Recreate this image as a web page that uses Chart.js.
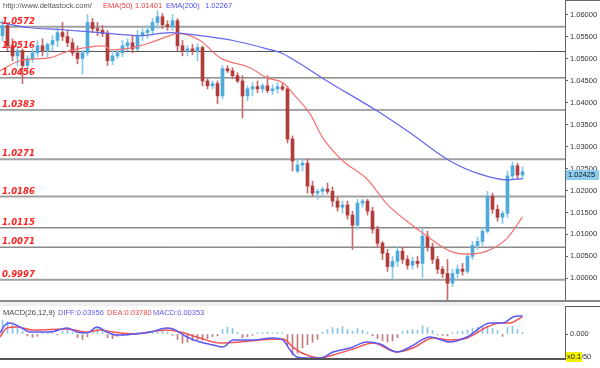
<!DOCTYPE html>
<html>
<head>
<meta charset="utf-8">
<script src="https://cdn.jsdelivr.net/npm/chart.js@4.4.1/dist/chart.umd.min.js"></script>
<style>
html, body { margin: 0; padding: 0; background: #fff; }
#wrap { position: relative; width: 600px; height: 368px; overflow: hidden; font-family: "Liberation Sans", Arial, sans-serif; }
#mainChart { position: absolute; left: 0; top: 0; }
#macdChart { position: absolute; left: 0; top: 300px; }
.hdr { position: absolute; font-size: 7.5px; line-height: 9px; white-space: nowrap; }
</style>
</head>
<body>
<div id="wrap">
  <canvas id="mainChart" width="600" height="300"></canvas>
  <canvas id="macdChart" width="600" height="68"></canvas>
  <div class="hdr" style="left:3px;top:1px;color:#555">http://www.deltastock.com/</div>
  <div class="hdr" style="left:103px;top:1px;color:#f03c3c">EMA(50)</div>
  <div class="hdr" style="left:135px;top:1px;color:#f03c3c">1.01401</div>
  <div class="hdr" style="left:166px;top:1px;color:#5050f0">EMA(200)</div>
  <div class="hdr" style="left:205px;top:1px;color:#5050f0">1.02267</div>
  <div class="hdr" style="left:3px;top:308px;color:#444">MACD(26,12,9)</div>
  <div class="hdr" style="left:58px;top:308px;color:#5a5af0">DIFF:0.03956</div>
  <div class="hdr" style="left:107px;top:308px;color:#f04848">DEA:0.03780</div>
  <div class="hdr" style="left:153px;top:308px;color:#5a5af0">MACD:0.00353</div>
</div>
<script>
// price candles, one per bar (left to right)
const opens = [1.0552,1.0575,1.0529,1.0506,1.0518,1.0484,1.0500,1.0513,1.0529,1.0518,
  1.0532,1.0541,1.0559,1.0550,1.0536,1.0513,1.0500,1.0513,1.0582,1.0568,
  1.0564,1.0557,1.0495,1.0506,1.0513,1.0529,1.0536,1.0522,1.0552,1.0559,
  1.0564,1.0582,1.0595,1.0577,1.0573,1.0586,1.0529,1.0518,1.0522,1.0518,
  1.0525,1.0449,1.0438,1.0443,1.0415,1.0477,1.0472,1.0461,1.0449,1.0415,
  1.0431,1.0436,1.0431,1.0438,1.0427,1.0431,1.0436,1.0431,1.0317,1.0244,
  1.0258,1.0262,1.0210,1.0194,1.0198,1.0203,1.0198,1.0176,1.0162,1.0167,
  1.0144,1.0121,1.0171,1.0176,1.0153,1.0112,1.0080,1.0057,1.0027,1.0039,
  1.0062,1.0043,1.0030,1.0039,1.0034,1.0096,1.0071,1.0043,1.0021,1.0011,
  0.9989,1.0011,1.0021,1.0016,1.0050,1.0075,1.0084,1.0107,1.0187,1.0157,
  1.0139,1.0148,1.0233,1.0256,1.0235];
const highs = [1.0586,1.0582,1.0545,1.0529,1.0522,1.0506,1.0522,1.0541,1.0545,1.0536,
  1.0552,1.0568,1.0582,1.0564,1.0545,1.0529,1.0518,1.0600,1.0591,1.0582,
  1.0575,1.0564,1.0518,1.0522,1.0541,1.0545,1.0552,1.0564,1.0568,1.0575,
  1.0591,1.0609,1.0602,1.0586,1.0600,1.0591,1.0541,1.0529,1.0532,1.0534,
  1.0529,1.0454,1.0449,1.0449,1.0484,1.0484,1.0479,1.0468,1.0461,1.0438,
  1.0445,1.0449,1.0443,1.0461,1.0440,1.0445,1.0445,1.0436,1.0324,1.0272,
  1.0272,1.0272,1.0221,1.0203,1.0208,1.0217,1.0208,1.0185,1.0176,1.0176,
  1.0153,1.0180,1.0180,1.0180,1.0162,1.0119,1.0084,1.0066,1.0050,1.0073,
  1.0071,1.0052,1.0048,1.0050,1.0112,1.0107,1.0080,1.0050,1.0027,1.0043,
  1.0021,1.0030,1.0034,1.0057,1.0084,1.0094,1.0116,1.0198,1.0194,1.0167,
  1.0153,1.0244,1.0265,1.0262,1.0253];
const lows = [1.0541,1.0518,1.0495,1.0484,1.0443,1.0472,1.0491,1.0504,1.0506,1.0504,
  1.0518,1.0527,1.0541,1.0527,1.0506,1.0488,1.0465,1.0506,1.0559,1.0552,
  1.0550,1.0484,1.0486,1.0500,1.0504,1.0518,1.0513,1.0518,1.0541,1.0545,
  1.0554,1.0568,1.0568,1.0564,1.0564,1.0518,1.0506,1.0506,1.0509,1.0495,
  1.0438,1.0431,1.0431,1.0397,1.0408,1.0468,1.0454,1.0445,1.0365,1.0404,
  1.0415,1.0422,1.0422,1.0422,1.0418,1.0422,1.0427,1.0308,1.0244,1.0240,
  1.0244,1.0194,1.0187,1.0180,1.0187,1.0192,1.0164,1.0153,1.0148,1.0135,
  1.0066,1.0112,1.0162,1.0144,1.0103,1.0071,1.0043,1.0016,1.0000,1.0027,
  1.0034,1.0021,1.0021,1.0025,1.0002,1.0062,1.0034,1.0011,1.0002,0.9950,
  0.9982,1.0002,1.0007,1.0011,1.0043,1.0066,1.0075,1.0103,1.0148,1.0130,
  1.0125,1.0139,1.0226,1.0226,1.0226];
const closes = [1.0575,1.0529,1.0506,1.0518,1.0484,1.0500,1.0513,1.0529,1.0518,1.0532,
  1.0541,1.0559,1.0550,1.0536,1.0513,1.0500,1.0513,1.0582,1.0568,1.0564,
  1.0557,1.0495,1.0506,1.0513,1.0529,1.0536,1.0522,1.0552,1.0559,1.0564,
  1.0582,1.0595,1.0577,1.0573,1.0586,1.0529,1.0518,1.0522,1.0518,1.0525,
  1.0449,1.0438,1.0443,1.0415,1.0477,1.0472,1.0461,1.0449,1.0415,1.0431,
  1.0436,1.0431,1.0438,1.0427,1.0431,1.0436,1.0431,1.0317,1.0267,1.0258,
  1.0262,1.0210,1.0194,1.0198,1.0203,1.0198,1.0176,1.0162,1.0167,1.0144,
  1.0121,1.0171,1.0176,1.0153,1.0112,1.0080,1.0057,1.0027,1.0039,1.0062,
  1.0043,1.0030,1.0039,1.0034,1.0096,1.0071,1.0043,1.0021,1.0011,0.9989,
  1.0011,1.0021,1.0016,1.0050,1.0075,1.0084,1.0107,1.0187,1.0157,1.0139,
  1.0148,1.0233,1.0256,1.0235,1.02425];

// moving averages, read at bar positions
const ema50Pos = [-0.5,3.5,9.5,13.5,20.5,21.5,26.1,29.5,33.5,34.9,39.5,43.5,49.5,52.9,56.1,58.1,61.5,64.1,68.1,72.9,76.9,80.9,84.9,89.5,92.9,96.9,100.9,104];
const ema50 = [1.0472,1.0495,1.0502,1.0518,1.0529,1.0520,1.0525,1.0536,1.0552,1.0557,1.0541,1.0502,1.0479,1.0456,1.0445,1.0420,1.0374,1.0319,1.0267,1.0226,1.0169,1.0130,1.0096,1.0062,1.0055,1.0062,1.0091,1.01401];
const ema200Pos = [-0.5,5.5,11.5,19.5,27.5,33.5,39.5,46.1,52.9,56.1,59.5,64.9,74.9,81.5,89.5,95.5,100.9,104];
const ema200 = [1.0582,1.0570,1.0566,1.0559,1.0552,1.0559,1.0552,1.0541,1.0522,1.0511,1.0488,1.0449,1.0381,1.0331,1.0267,1.0237,1.0224,1.02267];

// support / resistance levels and right axis ticks
const levels = [1.0572,1.0516,1.0456,1.0383,1.0271,1.0186,1.0115,1.0071,0.9997];
const levelLight = [true,false,false,false,true,true,false,false,true];
const priceTicks = [1.06,1.055,1.05,1.045,1.04,1.035,1.03,1.025,1.02,1.015,1.01,1.005,1.0];
const lastPrice = 1.02425;

// MACD panel
const macdHist = [0.030,0.027,0.022,0.014,0.006,-0.004,-0.007,-0.005,0.002,0.003,
  0.002,-0.002,0.006,0.008,0.004,-0.008,-0.012,-0.006,0.008,0.012,
  0.006,-0.008,-0.010,-0.005,-0.003,-0.002,0.002,0.003,0.003,0.004,
  0.006,0.008,0.007,0.005,-0.003,-0.012,-0.020,-0.018,-0.015,-0.012,
  -0.014,-0.010,-0.006,-0.004,0.010,0.015,0.012,0.004,-0.008,-0.006,
  -0.003,0.003,0.003,0.004,0.002,0.003,0.003,-0.025,-0.046,-0.042,
  -0.030,-0.023,-0.018,-0.012,0.004,0.010,0.014,0.012,0.016,0.010,
  0.006,0.012,0.008,0.004,-0.004,-0.010,-0.014,-0.017,-0.015,-0.008,
  0.006,0.008,0.010,0.008,0.018,0.014,0.008,-0.002,-0.003,-0.004,
  0.003,0.005,0.006,0.008,0.012,0.014,0.016,0.018,0.012,0.008,
  -0.005,0.014,0.017,0.010,0.00353];
const diffPos = [-0.5,0.5,1.5,3.5,5.5,9.5,12.9,14.9,16.9,18.9,20.9,22.9,26.1,29.5,32.9,34.1,36.9,39.5,42.1,44.1,46.1,50.1,54.1,56.1,57.5,58.9,61.5,63.5,66.1,69.5,72.9,75.5,78.9,81.5,85.5,89.5,92.9,97.5,100.1,102.1,104];
const diffVals = [0.0022,0.0196,0.0239,0.0152,0.0043,0.0043,0.0130,0.0043,0.0022,0.0152,0.0043,-0.0022,0.0,0.0043,0.0130,0.0109,-0.0065,-0.0174,-0.0239,-0.0283,-0.0130,-0.0130,-0.0087,-0.0130,-0.0348,-0.0500,-0.0522,-0.0522,-0.0391,-0.0304,-0.0174,-0.0217,-0.0391,-0.0283,-0.0065,-0.0174,-0.0065,0.0239,0.0239,0.0370,0.03956];
const deaPos = [-0.5,0.9,2.9,6.1,12.9,16.9,19.5,22.1,26.1,32.9,35.5,39.5,43.5,47.5,51.5,56.1,58.1,59.5,63.5,66.1,70.1,74.1,78.9,82.1,86.1,89.5,92.9,96.9,99.5,101.5,104];
const deaVals = [-0.0065,0.0130,0.0152,0.0087,0.0109,0.0043,0.0087,0.0043,0.0,0.0087,0.0043,-0.0087,-0.0196,-0.0174,-0.0130,-0.0109,-0.0283,-0.0391,-0.0522,-0.0457,-0.0326,-0.0196,-0.0391,-0.0304,-0.0087,-0.0130,-0.0087,0.0152,0.0239,0.0239,0.0378];
const macdTicks = [0, -0.05];

const xMin = -0.5, xMax = 112.5;
const barIdx = opens.map((_, i) => i);
const isUp = i => closes[i] >= opens[i];
const pts = (xs, ys) => xs.map((x, i) => ({ x: x, y: ys[i] }));

const fixRight = s => { s.width = 35; s.paddingTop = 0; s.paddingBottom = 0; };

// red italic level labels + last price box
const priceExtras = {
  id: 'priceExtras',
  afterDatasetsDraw(chart) {
    const c = chart.ctx, ys = chart.scales.y;
    c.save();
    c.font = 'italic bold 8.5px "DejaVu Sans"';
    c.fillStyle = '#ff2020';
    levels.forEach(lv => c.fillText(lv.toFixed(4), 2, Math.round(ys.getPixelForValue(lv)) - 3));
    c.restore();
  },
  afterDraw(chart) {
    const c = chart.ctx, ys = chart.scales.y;
    const py = Math.round(ys.getPixelForValue(lastPrice));
    c.save();
    c.fillStyle = '#8ccdef';
    c.fillRect(566, py - 2, 33, 10);
    c.fillStyle = '#111';
    c.font = '7.5px "Liberation Sans"';
    c.textBaseline = 'middle';
    c.fillText(lastPrice.toFixed(5), 568, py + 3);
    c.strokeStyle = '#666';
    c.lineWidth = 1;
    c.beginPath();
    c.moveTo(565, 0.5); c.lineTo(600, 0.5);
    c.stroke();
    c.restore();
  }
};

new Chart(document.getElementById('mainChart'), {
  type: 'bar',
  data: {
    datasets: [
      ...levels.map((lv, k) => ({
        type: 'line',
        data: [{ x: xMin, y: lv }, { x: xMax, y: lv }],
        borderColor: levelLight[k] ? '#a0a0a0' : '#505050',
        borderWidth: levelLight[k] ? 2 : 1,
        pointRadius: 0,
        order: 9
      })),
      {
        type: 'line', label: 'EMA(200)', data: pts(ema200Pos, ema200),
        borderColor: '#6464f0', borderWidth: 1.2, pointRadius: 0,
        cubicInterpolationMode: 'monotone', order: 1
      },
      {
        type: 'line', label: 'EMA(50)', data: pts(ema50Pos, ema50),
        borderColor: '#f27272', borderWidth: 1.2, pointRadius: 0,
        cubicInterpolationMode: 'monotone', order: 1
      },
      {
        label: 'wick', data: barIdx.map(i => ({ x: i, y: [lows[i], highs[i]] })),
        backgroundColor: ctx => isUp(ctx.dataIndex) ? '#86c8ea' : '#c46a6a',
        barThickness: 1, grouped: false, order: 4
      },
      {
        label: 'body', data: barIdx.map(i => ({ x: i, y: [opens[i], closes[i]] })),
        backgroundColor: ctx => isUp(ctx.dataIndex) ? '#4eaadc' : '#b03c3c',
        barThickness: 3, minBarLength: 1, grouped: false, order: 3
      }
    ]
  },
  options: {
    responsive: false,
    animation: false,
    layout: { padding: 0 },
    plugins: { legend: { display: false }, tooltip: { enabled: false } },
    scales: {
      x: { type: 'linear', min: xMin, max: xMax, offset: false, display: false },
      y: {
        position: 'right',
        min: 0.99509, max: 1.06331,
        afterFit: fixRight,
        afterBuildTicks: s => { s.ticks = priceTicks.map(v => ({ value: v })); },
        grid: { drawOnChartArea: false, tickLength: 3, color: '#666' },
        border: { color: '#666' },
        ticks: {
          autoSkip: false, padding: 2, color: '#333',
          font: { size: 7.5, family: '"Liberation Sans"' },
          callback: v => v.toFixed(5)
        }
      }
    }
  },
  plugins: [priceExtras]
});

// MACD panel frame + x0.1 marker
const macdFrame = {
  id: 'macdFrame',
  beforeDraw(chart) {
    const c = chart.ctx, a = chart.chartArea;
    c.save();
    c.fillStyle = '#f0f0f0';
    c.fillRect(0, 0, a.right, a.top);
    c.strokeStyle = '#888';
    c.lineWidth = 2;
    c.beginPath(); c.moveTo(0, 1); c.lineTo(600, 1); c.stroke();
    c.restore();
  },
  afterDraw(chart) {
    const c = chart.ctx, a = chart.chartArea;
    c.save();
    c.strokeStyle = '#555';
    c.lineWidth = 2;
    c.beginPath(); c.moveTo(0, a.bottom); c.lineTo(a.right, a.bottom); c.stroke();
    c.lineWidth = 1;
    c.beginPath(); c.moveTo(565, a.top + 0.5); c.lineTo(600, a.top + 0.5); c.stroke();
    const py = Math.round(chart.scales.y.getPixelForValue(-0.05));
    c.fillStyle = '#f2f200';
    c.fillRect(566, py - 5, 16, 10);
    c.fillStyle = '#111';
    c.font = '7.5px "Liberation Sans"';
    c.textBaseline = 'middle';
    c.fillText('x0.1', 567, py);
    c.restore();
  }
};

new Chart(document.getElementById('macdChart'), {
  type: 'bar',
  data: {
    datasets: [
      {
        type: 'line', label: 'DIFF', data: pts(diffPos, diffVals),
        borderColor: '#5a5af5', borderWidth: 1.5, pointRadius: 0,
        cubicInterpolationMode: 'monotone', order: 1
      },
      {
        type: 'line', label: 'DEA', data: pts(deaPos, deaVals),
        borderColor: '#f25454', borderWidth: 1.5, pointRadius: 0,
        cubicInterpolationMode: 'monotone', order: 1
      },
      {
        label: 'MACD', data: barIdx.map(i => ({ x: i, y: macdHist[i] })),
        backgroundColor: ctx => macdHist[ctx.dataIndex] >= 0 ? '#86c4e2' : '#c07a7a',
        barThickness: 1, grouped: false, order: 2
      }
    ]
  },
  options: {
    responsive: false,
    animation: false,
    layout: { padding: { top: 6, bottom: 9 } },
    plugins: { legend: { display: false }, tooltip: { enabled: false } },
    scales: {
      x: { type: 'linear', min: xMin, max: xMax, offset: false, display: false },
      y: {
        position: 'right',
        min: -0.0543, max: 0.0609,
        afterFit: fixRight,
        afterBuildTicks: s => { s.ticks = macdTicks.map(v => ({ value: v })); },
        grid: { drawOnChartArea: false, tickLength: 3, color: '#666' },
        border: { color: '#666' },
        ticks: {
          autoSkip: false, padding: 2, color: '#333',
          font: { size: 7.5, family: '"Liberation Sans"' },
          callback: v => v.toFixed(3)
        }
      }
    }
  },
  plugins: [macdFrame]
});
</script>
</body>
</html>
